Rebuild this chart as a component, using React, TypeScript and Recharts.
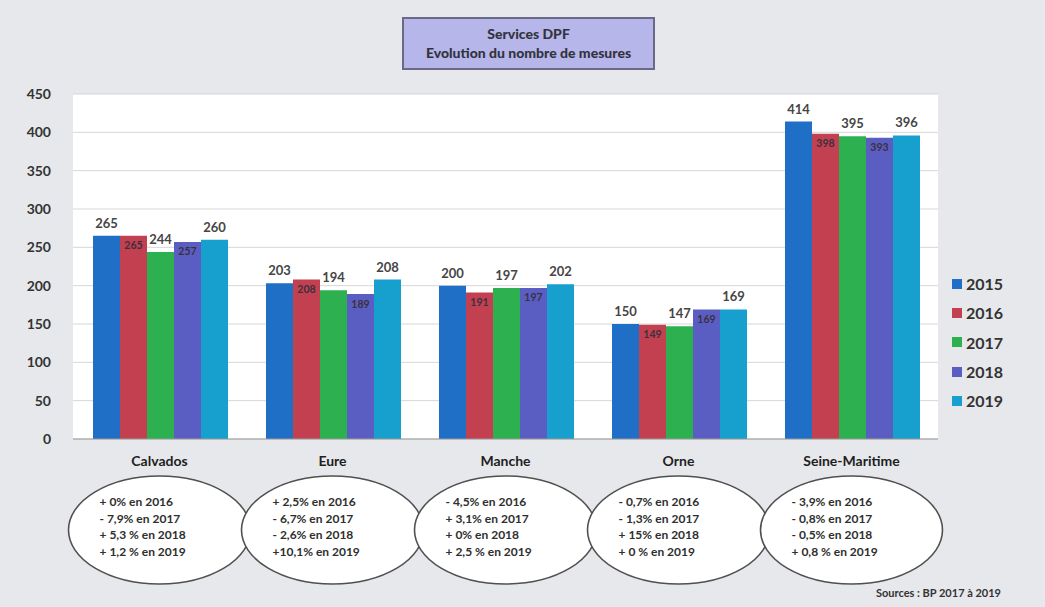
import React from "react";
import { Bar, BarChart, CartesianGrid, LabelList, XAxis, YAxis } from "recharts";

const categories = ["Calvados", "Eure", "Manche", "Orne", "Seine-Maritime"];
const v2015 = [265, 203, 200, 150, 414];
const v2016 = [265, 208, 191, 149, 398];
const v2017 = [244, 194, 197, 147, 395];
const v2018 = [257, 189, 197, 169, 393];
const v2019 = [260, 208, 202, 169, 396];
const yTicks = [0, 50, 100, 150, 200, 250, 300, 350, 400, 450];

const notes = [
  ["+ 0% en 2016", "- 7,9% en 2017", "+ 5,3 % en 2018", "+ 1,2 % en 2019"],
  ["+ 2,5% en 2016", "- 6,7% en 2017", "- 2,6% en 2018", "+10,1% en 2019"],
  ["- 4,5% en 2016", "+ 3,1% en 2017", "+ 0% en 2018", "+ 2,5 % en 2019"],
  ["- 0,7% en 2016", "- 1,3% en 2017", "+ 15% en 2018", "+ 0 % en 2019"],
  ["- 3,9% en 2016", "- 0,8% en 2017", "- 0,5% en 2018", "+ 0,8 % en 2019"],
];

const series = [
  { key: "y2015", name: "2015", values: v2015, color: "#1f6fc6", inside: false },
  { key: "y2016", name: "2016", values: v2016, color: "#c2404f", inside: true },
  { key: "y2017", name: "2017", values: v2017, color: "#2db150", inside: false },
  { key: "y2018", name: "2018", values: v2018, color: "#5a5ec2", inside: true },
  { key: "y2019", name: "2019", values: v2019, color: "#179fce", inside: false },
];

const data = categories.map((c, i) => {
  const row: Record<string, string | number> = { name: c };
  series.forEach((s) => {
    row[s.key] = s.values[i];
  });
  return row;
});

const FONT = "Lato, 'Open Sans', sans-serif";

function CategoryTick(props: any) {
  const { x, y, payload, index } = props;
  const lines = notes[index] ?? [];
  return (
    <g>
      <text x={x} y={y + 19} textAnchor="middle" fontSize={14} fontWeight="bold" fill="#1e1e1e" fontFamily={FONT}>
        {payload.value}
      </text>
      <ellipse cx={x} cy={y + 83} rx={91} ry={54} fill="#ffffff" stroke="#505050" strokeWidth={1.6} />
      {lines.map((l, k) => (
        <text
          key={k}
          x={x - 60}
          y={y + 59 + k * 16.5}
          fontSize={12}
          fontWeight="bold"
          fill="#2e2e2e"
          fontFamily={FONT}
        >
          {l}
        </text>
      ))}
    </g>
  );
}

export default function App() {
  return (
    <div
      style={{
        position: "absolute",
        left: 0,
        top: 0,
        width: 1045,
        height: 607,
        background: "#e6e8eb",
        fontFamily: FONT,
        overflow: "hidden",
      }}
    >
      <BarChart
        width={1045}
        height={607}
        data={data}
        margin={{ top: 94, right: 107, left: 0, bottom: 18 }}
        barCategoryGap={20}
        barGap={0}
      >
        <CartesianGrid vertical={false} stroke="#d6d6d6" fill="#ffffff" />
        <XAxis
          dataKey="name"
          height={150}
          tickLine={false}
          axisLine={{ stroke: "#9a9a9a" }}
          tick={<CategoryTick />}
          interval={0}
        />
        <YAxis
          width={73}
          domain={[0, 450]}
          ticks={yTicks}
          tickLine={false}
          axisLine={false}
          tickMargin={16}
          tick={{ fontSize: 14, fontWeight: "bold", fill: "#333", fontFamily: FONT }}
        />
        {series.map((s) => (
          <Bar key={s.key} dataKey={s.key} name={s.name} fill={s.color} isAnimationActive={false}>
            <LabelList
              dataKey={s.key}
              position={s.inside ? "insideTop" : "top"}
              offset={s.inside ? 6 : 8}
              fill={s.inside ? "#3a3040" : "#454545"}
              fontSize={s.inside ? 10.5 : 13}
              fontWeight="bold"
              fontFamily={FONT}
            />
          </Bar>
        ))}
      </BarChart>

      <div
        style={{
          position: "absolute",
          left: 402,
          top: 17,
          width: 253,
          height: 53,
          background: "#b6b6ea",
          border: "2px solid #6a6a88",
          boxSizing: "border-box",
          textAlign: "center",
          fontWeight: 900,
          fontSize: 14,
          color: "#33333f",
          lineHeight: "19px",
          paddingTop: 5,
        }}
      >
        <div>Services DPF</div>
        <div>Evolution du nombre de mesures</div>
      </div>

      <div style={{ position: "absolute", left: 952, top: 269 }}>
        {series.map((s) => (
          <div key={s.key} style={{ display: "flex", alignItems: "center", height: 29.3 }}>
            <span style={{ width: 10, height: 10, background: s.color, marginRight: 4, display: "inline-block" }} />
            <span style={{ fontSize: 16, fontWeight: "bold", color: "#333" }}>{s.name}</span>
          </div>
        ))}
      </div>

      <div
        style={{
          position: "absolute",
          left: 876,
          top: 586,
          fontSize: 11,
          fontWeight: "bold",
          color: "#333",
        }}
      >
        Sources : BP 2017 à 2019
      </div>
    </div>
  );
}
